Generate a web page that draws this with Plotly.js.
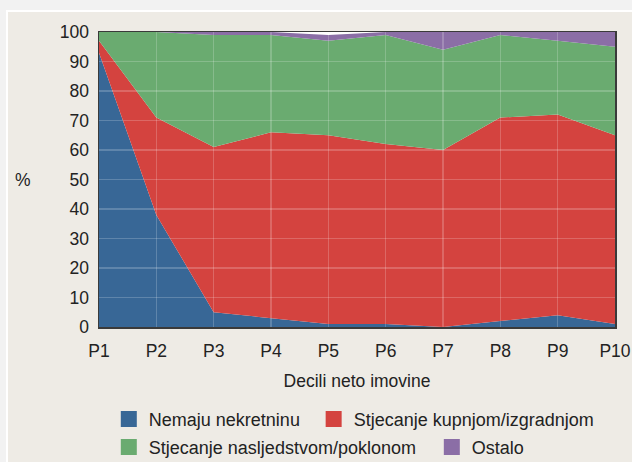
<!DOCTYPE html>
<html>
<head>
<meta charset="utf-8">
<script src="https://cdn.plot.ly/plotly-3.0.1.min.js"></script>
<style>
  html, body { margin: 0; padding: 0; background: #f2f2f2; width: 632px; height: 462px; overflow: hidden; }
  #wrap { position: absolute; left: 6px; top: 10px; border-left: 2px solid #ffffff; border-top: 2px solid #ffffff; }
  #chart { width: 624px; height: 450px; }
</style>
</head>
<body>
<div id="wrap"><div id="chart"></div></div>
<script>
// Categories (wealth deciles)
var categories = ['P1', 'P2', 'P3', 'P4', 'P5', 'P6', 'P7', 'P8', 'P9', 'P10'];

// Series values (%)
var nemajuNekretninu = [93, 38, 5, 3, 1, 1, 0, 2, 4, 1];
var kupnjomIzgradnjom = [4, 33, 56, 63, 64, 61, 60, 69, 68, 64];
var nasljedstvomPoklonom = [3, 29, 38, 33, 32, 37, 34, 28, 25, 30];
var ostalo = [0, 0, 2, 1, 2, 1, 6, 2, 3, 5];

// Labels
var seriesNames = ['Nemaju nekretninu', 'Stjecanje kupnjom/izgradnjom', 'Stjecanje nasljedstvom/poklonom', 'Ostalo'];
var yTickVals = [0, 10, 20, 30, 40, 50, 60, 70, 80, 90, 100];
var xTitle = 'Decili neto imovine';
var yTitle = '%';

var seriesValues = [nemajuNekretninu, kupnjomIzgradnjom, nasljedstvomPoklonom, ostalo];
var colors = ['#386796', '#d4433f', '#6aab70', '#8b6ea6'];
var legendIds = ['legend', 'legend2', 'legend3', 'legend4'];

var FONT = '"Liberation Sans", Arial, sans-serif';
var TXT = '#222222';

var traces = [];
seriesValues.forEach(function (vals, i) {
  traces.push({
    type: 'scatter',
    x: categories,
    y: vals,
    name: seriesNames[i],
    stackgroup: 'one',
    mode: 'lines',
    line: { width: 0, color: colors[i] },
    fillcolor: colors[i],
    showlegend: false,
    hoverinfo: 'x+y+name'
  });
});
// legend entries (square swatches) on the overlay subplot
seriesValues.forEach(function (vals, i) {
  traces.push({
    type: 'scatter',
    x: [null],
    y: [null],
    xaxis: 'x2',
    yaxis: 'y2',
    name: seriesNames[i],
    legend: legendIds[i],
    mode: 'markers',
    marker: { symbol: 'square', size: 16, color: colors[i] },
    showlegend: true,
    hoverinfo: 'skip'
  });
});

var legendBase = {
  orientation: 'h',
  xanchor: 'left',
  yanchor: 'top',
  traceorder: 'normal',
  bgcolor: 'rgba(0,0,0,0)',
  font: { family: FONT, size: 18, color: TXT },
  itemclick: false,
  itemdoubleclick: false
};

var layout = {
  width: 624,
  height: 450,
  margin: { l: 91, r: 17, t: 20, b: 135, autoexpand: false },
  paper_bgcolor: '#eeebe5',
  plot_bgcolor: 'rgba(0,0,0,0)',
  font: { family: FONT, size: 18, color: TXT },
  showlegend: true,
  xaxis: {
    type: 'category',
    categoryorder: 'array',
    categoryarray: categories,
    range: [0, categories.length - 1],
    showgrid: false,
    showline: true,
    linecolor: '#3a3a3a',
    linewidth: 1.5,
    mirror: true,
    ticks: '',
    ticklabelstandoff: 7,
    tickfont: { family: FONT, size: 17.5, color: TXT },
    title: { text: xTitle, font: { family: FONT, size: 17.5, color: TXT }, standoff: 15 },
    zeroline: false,
    fixedrange: true
  },
  yaxis: {
    range: [0, 100],
    tickvals: yTickVals,
    showgrid: false,
    showline: true,
    linecolor: '#3a3a3a',
    linewidth: 1.5,
    mirror: true,
    ticks: '',
    ticklabelstandoff: 5,
    tickfont: { family: FONT, size: 17.5, color: TXT },
    zeroline: false,
    fixedrange: true
  },
  xaxis2: {
    type: 'category',
    categoryorder: 'array',
    categoryarray: categories,
    range: [0, categories.length - 1],
    anchor: 'y2',
    showgrid: true,
    gridcolor: 'rgba(255,255,255,0.2)',
    gridwidth: 1.5,
    showticklabels: false,
    ticks: '',
    zeroline: false,
    fixedrange: true
  },
  yaxis2: {
    range: [0, 100],
    tickvals: yTickVals,
    anchor: 'x2',
    showgrid: true,
    gridcolor: 'rgba(255,255,255,0.2)',
    gridwidth: 1.5,
    showticklabels: false,
    ticks: '',
    zeroline: false,
    fixedrange: true
  },
  legend: Object.assign({}, legendBase, { x: 0.019, y: -0.25 }),
  legend2: Object.assign({}, legendBase, { x: 0.416, y: -0.25 }),
  legend3: Object.assign({}, legendBase, { x: 0.019, y: -0.345 }),
  legend4: Object.assign({}, legendBase, { x: 0.645, y: -0.345 }),
  shapes: [{
    type: 'rect',
    xref: 'paper', yref: 'paper',
    x0: 0, x1: 1, y0: 0, y1: 1,
    fillcolor: '#ffffff',
    line: { width: 0 },
    layer: 'below'
  }],
  annotations: [{
    text: yTitle,
    xref: 'paper',
    yref: 'paper',
    x: -0.167,
    y: 0.5,
    xanchor: 'left',
    yanchor: 'middle',
    showarrow: false,
    font: { family: FONT, size: 17.5, color: TXT }
  }]
};

Plotly.newPlot('chart', traces, layout, { displayModeBar: false, staticPlot: true });
</script>
</body>
</html>
